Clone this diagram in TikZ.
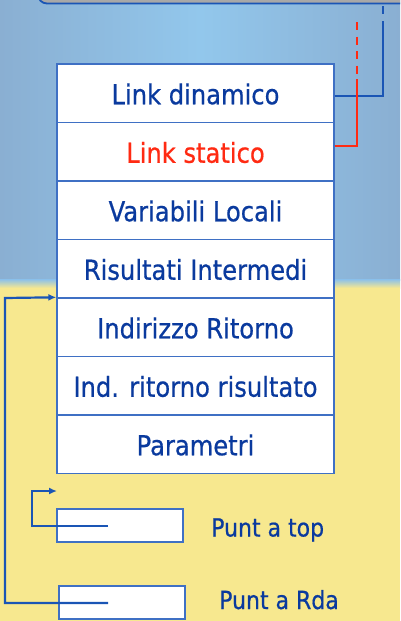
\documentclass[tikz,border=0pt]{standalone}
\usepackage{fontspec}
\setmainfont{DejaVu Sans}[FakeStretch=0.88,FakeBold=0.6]
\usetikzlibrary{arrows.meta,calc}
\definecolor{bgblueL}{HTML}{8AAFD2}
\definecolor{bgblueM}{HTML}{92C7EC}
\definecolor{bgblueB}{HTML}{90C2E6}
\definecolor{bgyel}{HTML}{F7E88F}
\definecolor{txtblue}{HTML}{0A3A9E}
\definecolor{lnblue}{HTML}{1A55B5}
\definecolor{boxblue}{HTML}{3F70C4}
\definecolor{linkred}{HTML}{FF2A12}
\definecolor{topgray}{HTML}{A8A8A8}
\begin{document}
\begin{tikzpicture}[x=1pt,y=1pt,
  row/.style={draw=boxblue, line width=1.4pt, fill=white, minimum width=277pt,
    minimum height=58.5pt, inner sep=0pt, text height=22pt, text depth=0pt,
    font=\fontsize{27.5}{30}\selectfont, text=txtblue},
  ptrbox/.style={draw=boxblue, line width=1.4pt, fill=white, minimum width=126pt,
    minimum height=33pt, inner sep=0pt},
  lbl/.style={anchor=base west, inner sep=0pt, font=\fontsize{25}{28}\selectfont, text=txtblue},
  conn/.style={draw=lnblue, line width=2.2pt},
  ptr/.style={conn, -{Latex[length=8pt,width=7pt]}},
  redconn/.style={draw=linkred, line width=2.6pt},
]
\useasboundingbox (0,0) rectangle (400,-621);
\begin{scope}
  \clip (0,0) rectangle (400,-621);
  \shade[left color=bgblueL, right color=bgblueL, middle color=bgblueM] (0,0) rectangle (400,-280);
  \shade[top color=bgblueB, bottom color=bgyel] (0,-279.5) rectangle (400,-288);
  \fill[bgyel] (0,-287.5) rectangle (400,-621);
  \draw[fill=topgray, draw=lnblue, line width=1.8pt, rounded corners=9pt] (38,20) rectangle (440,-3.5);
\end{scope}

% stack
\node[row] (r0) at (195.5,-93.25) {Link dinamico};
\node[row, text=linkred] (r1) at (195.5,-151.75) {Link statico};
\node[row] (r2) at (195.5,-210.25) {Variabili Locali};
\node[row] (r3) at (195.5,-268.75) {Risultati Intermedi};
\node[row] (r4) at (195.5,-327.25) {Indirizzo Ritorno};
\node[row] (r5) at (195.5,-385.75) {Ind. ritorno risultato};
\node[row] (r6) at (195.5,-444.25) {Parametri};

% pointer boxes
\node[ptrbox] (ptop) at (120,-525.5) {};
\node[ptrbox] (prda) at (122,-602.5) {};
\node[lbl] (ltop) at (211,-536.5) {Punt a top};
\node[lbl] (lrda) at (219,-609) {Punt a Rda};

% dynamic link
\coordinate (dup) at (383,-21);
\coordinate (ddashA) at (383,-6);
\coordinate (ddashB) at (383,-14);
\draw[conn] ([yshift=-3pt]r0.east) -| (dup);
\draw[conn] (ddashA) -- (ddashB);

% static link
\coordinate (sup) at (357,-79);
\coordinate (stop) at (357,-22);
\draw[redconn] ([yshift=5.75pt]r1.east) -| (sup);
\draw[redconn, dash pattern=on 8pt off 6.5pt] (stop) -- (sup);

% top pointer
\coordinate (topin) at (108,-526);
\coordinate (topcorner) at (32,-491);
\coordinate (freetop) at (57,-491);
\draw[ptr] (topin) -| (topcorner) -- (freetop);

% rda pointer
\coordinate (rdain) at (108,-603);
\coordinate (rdacorner) at (5,-298);
\draw[ptr] (rdain) -| (rdacorner) -- (r4.north west);
\end{tikzpicture}
\end{document}
